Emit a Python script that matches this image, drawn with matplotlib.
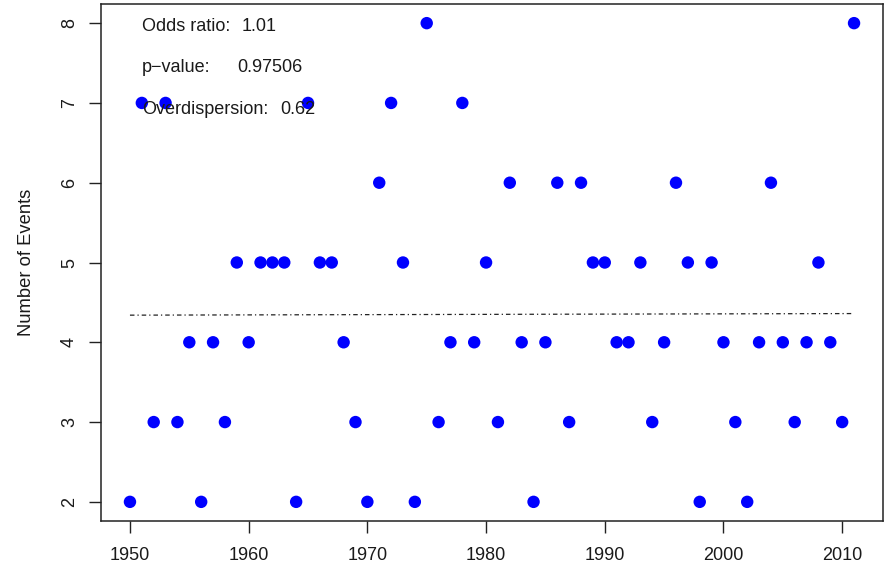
import matplotlib
matplotlib.use("Agg")
import matplotlib.pyplot as plt

plt.rcParams["font.family"] = ["Liberation Sans", "DejaVu Sans"]

# Annual event counts
years = list(range(1950, 2012))
events = [
    2, 7, 3, 7, 3, 4, 2, 4, 3, 5,   # 1950-1959
    4, 5, 5, 5, 2, 7, 5, 5, 4, 3,   # 1960-1969
    2, 6, 7, 5, 2, 8, 3, 4, 7, 4,   # 1970-1979
    5, 3, 6, 4, 2, 4, 6, 3, 6, 5,   # 1980-1989
    5, 4, 4, 5, 3, 4, 6, 5, 2, 5,   # 1990-1999
    4, 3, 2, 4, 6, 4, 3, 4, 5, 4,   # 2000-2009
    3, 8,                           # 2010-2011
]

# Fitted trend (endpoints)
trend_years = [1950, 2011]
trend_values = [4.34, 4.36]

# Model summary
stat_labels = ["Odds ratio:", "p\u2212value:", "Overdispersion:"]
stat_values = ["1.01", "0.97506", "0.62"]

xticks = [1950, 1960, 1970, 1980, 1990, 2000, 2010]
yticks = [2, 3, 4, 5, 6, 7, 8]

W, H = 891, 568
fig = plt.figure(figsize=(W / 100, H / 100), dpi=100)
ax = fig.add_axes([101 / W, (H - 521) / H, 782 / W, 517 / H])

ax.plot(trend_years, trend_values, color="#222222", lw=0.9,
        dashes=(3.6, 2.4, 1.0, 2.4))
ax.scatter(years, events, s=80, color="#0000ff", edgecolors="none", zorder=3)

# R-style 4% padding on both axes
xr = max(years) - min(years)
ax.set_xlim(min(years) - 0.04 * xr, max(years) + 0.04 * xr)
yr = max(events) - min(events)
ax.set_ylim(min(events) - 0.04 * yr, max(events) + 0.04 * yr)

ax.set_xticks(xticks)
ax.set_yticks(yticks)
ax.tick_params(axis="both", direction="out", length=8.5, width=1.0,
               color="#222222", labelsize=13, labelcolor="#1a1a1a")
ax.tick_params(axis="x", pad=10.5)
ax.tick_params(axis="y", pad=8.0)
for lbl in ax.get_yticklabels():
    lbl.set_rotation(90)
    lbl.set_va("center")

for sp in ax.spines.values():
    sp.set_color("#222222")
    sp.set_linewidth(1.1)

ax.set_ylabel("Number of Events", fontsize=13.2, color="#1a1a1a", labelpad=19)

label_x = (142 - 101) / 782
value_x = [(242 - 101) / 782, (237 - 101) / 782, (280 - 101) / 782]
rows_y = [(521 - 31) / 517, (521 - 72) / 517, (521 - 114) / 517]
for lab, val, vx, ry in zip(stat_labels, stat_values, value_x, rows_y):
    ax.text(label_x, ry, lab, transform=ax.transAxes, fontsize=13,
            color="#1a1a1a", va="baseline", ha="left")
    ax.text(vx, ry, val, transform=ax.transAxes, fontsize=13,
            color="#1a1a1a", va="baseline", ha="left")

fig.savefig("out.png", dpi=100)
